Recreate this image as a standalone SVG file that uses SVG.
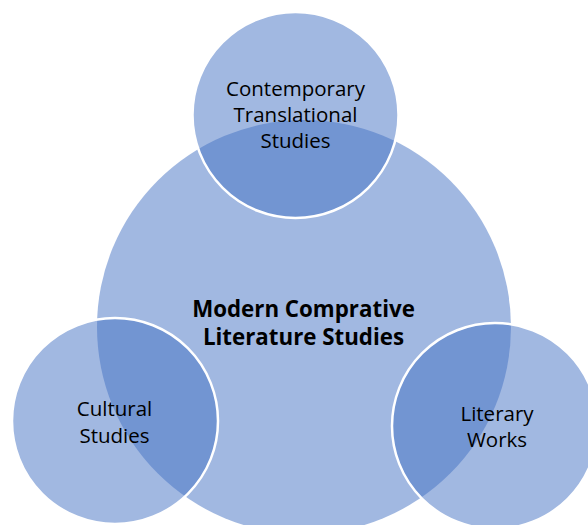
<svg xmlns="http://www.w3.org/2000/svg" width="588" height="525" viewBox="0 0 588 525">
<style>
.c{fill:#4472C4;fill-opacity:0.5}
.s{stroke:#FFFFFF;stroke-width:2.5}
.t{font-family:"Open Sans","Liberation Sans",sans-serif;font-size:20.5px;fill:#000;text-anchor:middle}
.b{font-family:"Open Sans","Liberation Sans",sans-serif;font-size:22.3px;font-weight:bold;fill:#000;text-anchor:middle}
</style>
<rect width="588" height="525" fill="#FFFFFF"/>
<g id="main">
<circle class="c" cx="304" cy="327" r="207"/>
<text class="b" x="303.5" y="317">Modern Comprative</text>
<text class="b" x="303.5" y="345">Literature Studies</text>
</g>
<g id="top">
<circle class="c s" cx="295.5" cy="115" r="103"/>
<text class="t" x="295.5" y="95.5">Contemporary</text>
<text class="t" x="295.5" y="121.5">Translational</text>
<text class="t" x="295.5" y="147.5">Studies</text>
</g>
<g id="left">
<circle class="c s" cx="115" cy="421" r="103"/>
<text class="t" x="114.5" y="416">Cultural</text>
<text class="t" x="114.5" y="442.5">Studies</text>
</g>
<g id="right">
<circle class="c s" cx="495" cy="426" r="103"/>
<text class="t" x="497" y="421">Literary</text>
<text class="t" x="497" y="446.5">Works</text>
</g>
<g id="connectors"/>
</svg>
